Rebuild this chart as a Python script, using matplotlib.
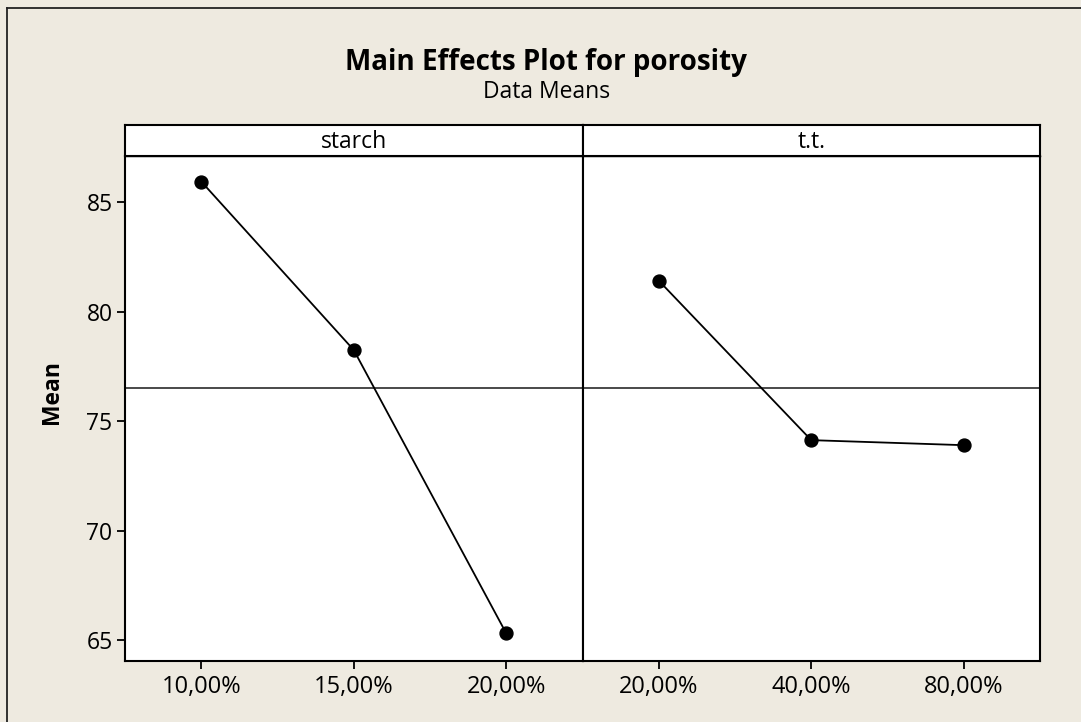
import matplotlib
matplotlib.use("Agg")
import matplotlib.pyplot as plt
from matplotlib.lines import Line2D

plt.rcParams["font.family"] = ["Open Sans", "DejaVu Sans"]

# data
factors = ["starch", "t.t."]
starch_levels = ["10,00%", "15,00%", "20,00%"]
tt_levels = ["20,00%", "40,00%", "80,00%"]
starch_means = [85.95, 78.25, 65.3]
tt_means = [81.42, 74.13, 73.9]
grand_mean = 76.5
y_ticks = [65, 70, 75, 80, 85]

W, H = 1081, 722
BG = "#EEEAE0"

fig = plt.figure(figsize=(W / 100, H / 100), dpi=100, facecolor=BG)

left, right = 125 / W, 1040 / W
bottom, top = 1 - 660.7 / H, 1 - 155.7 / H
strip_top = 1 - 124.5 / H
panel_w = (right - left) / 2

panels = [(factors[0], starch_levels, starch_means),
          (factors[1], tt_levels, tt_means)]

for i, (name, levels, means) in enumerate(panels):
    x0 = left + i * panel_w
    ax = fig.add_axes([x0, bottom, panel_w, top - bottom], facecolor="white")
    xs = list(range(1, len(levels) + 1))
    ax.axhline(grand_mean, color="#3a3a3a", lw=1.3, zorder=1)
    ax.plot(xs, means, color="black", lw=1.3, marker="o", markersize=9.3,
            zorder=3)
    ax.set_xlim(0.5, len(levels) + 0.5)
    ax.set_ylim(64.05, 87.13)
    ax.set_xticks(xs)
    ax.set_xticklabels(levels, fontsize=17)
    ax.set_yticks(y_ticks)
    if i == 0:
        ax.tick_params(axis="y", labelsize=16.5, length=6, width=1.3, pad=3)
    else:
        ax.tick_params(axis="y", left=False, labelleft=False)
    ax.tick_params(axis="x", length=6, width=1.3, pad=4)
    for s in ax.spines.values():
        s.set_linewidth(1.5)
    ax.spines["top"].set_linewidth(1.0)

    # strip with factor name
    sx = fig.add_axes([x0, top, panel_w, strip_top - top], facecolor="white")
    sx.set_xticks([])
    sx.set_yticks([])
    for s in sx.spines.values():
        s.set_linewidth(1.5)
    sx.text(0.5, 0.45, name, ha="center", va="center", fontsize=16.5,
            transform=sx.transAxes)

fig.text(546 / W, 1 - 70 / H, "Main Effects Plot for porosity",
         ha="center", va="baseline", fontsize=20, fontweight="bold")
fig.text(547 / W, 1 - 98.3 / H, "Data Means", ha="center", va="baseline",
         fontsize=16.5)
fig.text(52.5 / W, 1 - 392 / H, "Mean", ha="center", va="center",
         rotation=90, fontsize=16.5, fontweight="bold")

# outer frame (only left and top edges are visible)
fig.add_artist(Line2D([7.5 / W, 7.5 / W], [0, 1 - 8 / H], color="#222222",
                      lw=1.3, transform=fig.transFigure))
fig.add_artist(Line2D([7.5 / W, 1], [1 - 8 / H, 1 - 8 / H], color="#222222",
                      lw=1.3, transform=fig.transFigure))

fig.savefig("out.png", dpi=100, facecolor=BG)
